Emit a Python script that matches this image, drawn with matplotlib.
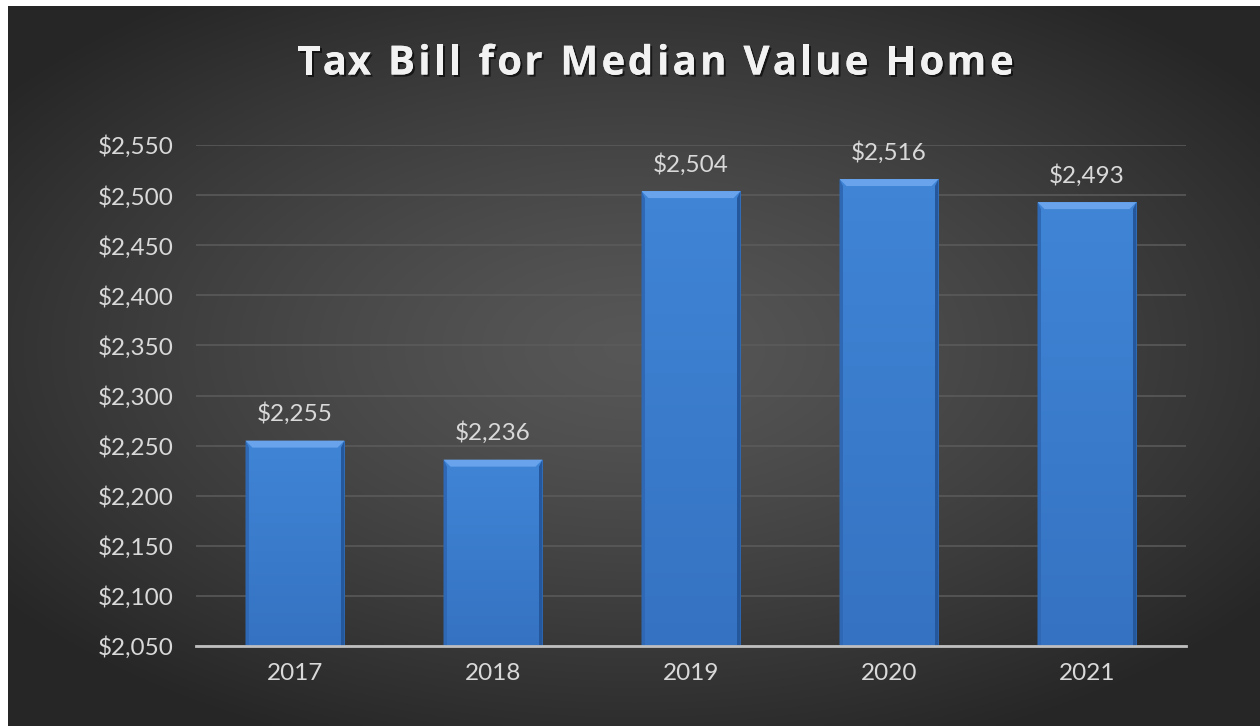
import numpy as np
import matplotlib
matplotlib.use("Agg")
import matplotlib.pyplot as plt
from matplotlib.patches import Polygon
from matplotlib import patheffects
from matplotlib.ticker import FuncFormatter

# Tax bill for the median value home, by year
years = ["2017", "2018", "2019", "2020", "2021"]
tax_bill = [2255, 2236, 2504, 2516, 2493]
y_ticks = [2050, 2100, 2150, 2200, 2250, 2300, 2350, 2400, 2450, 2500, 2550]
title_text = "Tax Bill for Median Value Home"

W, H, DPI = 1260, 726, 100
plt.rcParams["font.family"] = ["Lato", "DejaVu Sans"]
label_size = 17.5

fig = plt.figure(figsize=(W / DPI, H / DPI), dpi=DPI)
fig.patch.set_facecolor("white")

# dark radial backdrop (lighter in the middle)
bg = fig.add_axes([8 / W, 0, 1 - 8 / W, 1 - 6 / H])
bg.set_axis_off()
gx, gy = np.meshgrid(np.linspace(-1, 1, 400), np.linspace(-1, 1, 240))
r = np.clip(np.sqrt((gx * 0.95) ** 2 + ((gy + 0.05) * 1.0) ** 2), 0, 1.2)
shade = 0.34 - 0.19 * (r / 1.2) ** 1.3
bg.imshow(np.dstack([shade] * 3), aspect="auto", extent=[0, 1, 0, 1])
bg.set_xlim(0, 1)
bg.set_ylim(0, 1)

ax = fig.add_axes([196 / W, 80 / H, 990 / W, 501 / H])
ax.set_facecolor("none")
x = np.arange(len(years))
width = 0.5
ymin, ymax = y_ticks[0], y_ticks[-1]

ax.set_xlim(-0.5, len(years) - 0.5)
ax.set_ylim(ymin, ymax)
ax.set_yticks(y_ticks)
ax.yaxis.set_major_formatter(FuncFormatter(lambda v, _: f"${v:,.0f}"))
ax.set_xticks(x)
ax.set_xticklabels(years)
ax.tick_params(axis="both", length=0, colors="#d9d9d9", labelsize=label_size)
ax.tick_params(axis="y", pad=16)
ax.tick_params(axis="x", pad=12)
for s in ["top", "right", "left"]:
    ax.spines[s].set_visible(False)
ax.spines["bottom"].set_color("#bfbfbf")
ax.spines["bottom"].set_linewidth(2)
ax.spines["bottom"].set_zorder(5)
ax.grid(axis="y", color="#5c5c5c", linewidth=1.1)
ax.set_axisbelow(True)

bars = ax.bar(x, [v - ymin for v in tax_bill], width, bottom=ymin,
              color="#3a7bd0", edgecolor="none", zorder=2)

# per-pixel sizes in data units for the bevel
px_x = len(years) / 990
px_y = (ymax - ymin) / 501
d = 7
grad = np.linspace(0, 1, 100).reshape(-1, 1)
for b, v in zip(bars, tax_bill):
    x0, x1 = b.get_x(), b.get_x() + b.get_width()
    # vertical shading inside the bar
    cols = np.dstack([0.21 + 0.04 * grad, 0.45 + 0.07 * grad, 0.76 + 0.08 * grad])
    im = ax.imshow(cols, extent=[x0, x1, ymin, v], origin="lower",
                   aspect="auto", zorder=2.1)
    im.set_clip_path(b)
    dx, dy = d * px_x, d * px_y
    # top bevel
    ax.add_patch(Polygon([[x0, v], [x1, v], [x1 - dx, v - dy], [x0 + dx, v - dy]],
                         closed=True, color="#68a3ec", lw=0, zorder=3))
    # side bevels
    ax.add_patch(Polygon([[x0, v], [x0 + dx * 0.5, v - dy], [x0 + dx * 0.5, ymin], [x0, ymin]],
                         closed=True, color="#2f69b6", lw=0, zorder=3))
    ax.add_patch(Polygon([[x1, v], [x1 - dx * 0.5, v - dy], [x1 - dx * 0.5, ymin], [x1, ymin]],
                         closed=True, color="#24579c", lw=0, zorder=3))
    ax.text(b.get_x() + b.get_width() / 2, v + 27 * px_y, f"${v:,.0f}",
            ha="center", va="center", color="#d9d9d9", fontsize=label_size, zorder=4)

ax.set_xlim(-0.5, len(years) - 0.5)
ax.set_ylim(ymin, ymax)

# letter-spaced title, laid out one character at a time
renderer = fig.canvas.get_renderer()
title_kw = dict(color="#f2f2f2", fontsize=29, fontweight="bold", va="center", ha="left",
                family=["Open Sans", "DejaVu Sans"])


def text_width(s):
    t = fig.text(0, 0, s + "x", **title_kw)
    w = t.get_window_extent(renderer).width
    t.remove()
    return w


base_x = text_width("")
offsets = [text_width(title_text[:i]) - base_x for i in range(len(title_text) + 1)]
natural = offsets[-1]
target = 716
spacing = max(0, (target - natural) / (len(title_text) - 1))
left = 655 - (natural + spacing * (len(title_text) - 1)) / 2
shadow = [patheffects.withSimplePatchShadow(offset=(1.5, -1.5), shadow_rgbFace="black", alpha=0.6),
          patheffects.Normal()]
for i, ch in enumerate(title_text):
    if ch == " ":
        continue
    px = left + offsets[i] + i * spacing
    t = fig.text(px / W, 1 - 64 / H, ch, **title_kw)
    t.set_path_effects(shadow)

fig.savefig("out.png", dpi=DPI, facecolor=fig.get_facecolor())
